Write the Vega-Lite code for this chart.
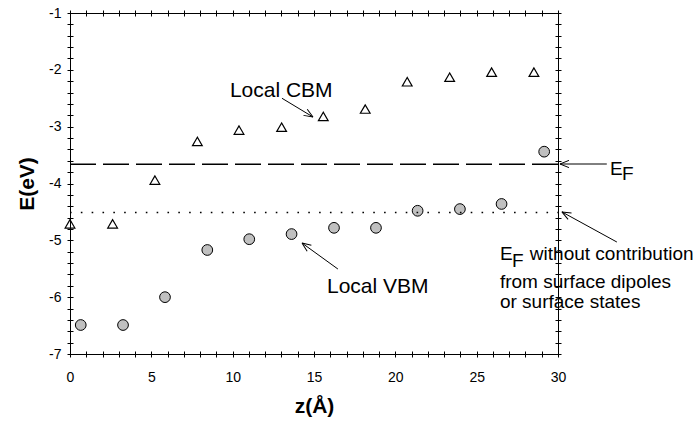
{
  "$schema": "https://vega.github.io/schema/vega-lite/v6.json",
  "autosize": "none",
  "width": 488,
  "height": 341,
  "padding": {"left": 70, "top": 13, "right": 138, "bottom": 67},
  "background": "white",
  "config": {
    "view": {"stroke": "black", "strokeWidth": 1},
    "font": "Liberation Sans"
  },
  "datasets": {
    "cbm": [
      {"z": 0, "E": -4.71}, {"z": 2.62, "E": -4.71}, {"z": 5.22, "E": -3.94}, {"z": 7.83, "E": -3.26},
      {"z": 10.39, "E": -3.06}, {"z": 13.01, "E": -3.01}, {"z": 15.57, "E": -2.82}, {"z": 18.15, "E": -2.69},
      {"z": 20.73, "E": -2.21}, {"z": 23.34, "E": -2.13}, {"z": 25.92, "E": -2.04}, {"z": 28.52, "E": -2.04}
    ],
    "vbm": [
      {"z": 0.66, "E": -6.49}, {"z": 3.26, "E": -6.49}, {"z": 5.84, "E": -6.0}, {"z": 8.44, "E": -5.17},
      {"z": 11.02, "E": -4.98}, {"z": 13.62, "E": -4.89}, {"z": 16.23, "E": -4.78}, {"z": 18.81, "E": -4.78},
      {"z": 21.37, "E": -4.48}, {"z": 23.97, "E": -4.45}, {"z": 26.53, "E": -4.36}, {"z": 29.15, "E": -3.44}
    ],
    "levels": [
      {"name": "EF", "z": 0, "z2": 30, "E": -3.66},
      {"name": "EF0", "z": 0, "z2": 30, "E": -4.51}
    ],
    "arrows": [
      {"id": "cbm", "z": 13.03, "E": -2.50, "z2": 14.94, "E2": -2.83},
      {"id": "vbm", "z": 16.47, "E": -5.505, "z2": 14.26, "E2": -5.047},
      {"id": "ef", "z": 33.0, "E": -3.657, "z2": 30.12, "E2": -3.657},
      {"id": "ef0", "z": 33.62, "E": -5.03, "z2": 30.24, "E2": -4.50}
    ],
    "bandlabels": [
      {"text": "Local CBM", "z": 9.83, "E": -2.478},
      {"text": "Local VBM", "z": 15.8, "E": -5.927}
    ],
    "labels": [
      {"text": "E", "z": 33.19, "E": -3.85},
      {"text": "F", "z": 33.93, "E": -3.94},
      {"text": "E", "z": 26.43, "E": -5.346},
      {"text": "F", "z": 27.17, "E": -5.47},
      {"text": "without contribution", "z": 28.27, "E": -5.346},
      {"text": "from surface dipoles", "z": 26.43, "E": -5.839},
      {"text": "or surface states", "z": 26.43, "E": -6.19}
    ]
  },
  "encoding": {
    "x": {"field": "z", "type": "quantitative", "scale": {"domain": [0, 30], "nice": false, "zero": false}, "axis": null},
    "y": {"field": "E", "type": "quantitative", "scale": {"domain": [-7, -1], "nice": false, "zero": false}, "axis": null}
  },
  "resolve": {"axis": {"x": "independent", "y": "independent"}},
  "layer": [
    {
      "data": {"name": "cbm"},
      "mark": {"type": "point", "shape": "triangle-up", "filled": false, "stroke": "black", "strokeWidth": 1.2, "size": 95, "opacity": 1},
      "encoding": {
        "x": {"field": "z", "type": "quantitative", "scale": {"domain": [0, 30], "nice": false, "zero": false},
          "axis": {"orient": "bottom", "values": [0,1,2,3,4,5,6,7,8,9,10,11,12,13,14,15,16,17,18,19,20,21,22,23,24,25,26,27,28,29,30],
            "labelExpr": "datum.value % 5 === 0 ? '' + datum.value : ''",
            "domain": false, "offset": -3, "tickSize": 6, "tickColor": "black", "tickWidth": 1,
            "labelPadding": 13, "labelFontSize": 14, "labelColor": "black", "labelFlush": false, "labelOverlap": false,
            "grid": false, "title": "z(Å)", "titleFontSize": 21, "titleFontWeight": "bold", "titleColor": "black", "titlePadding": 11}},
        "y": {"field": "E", "type": "quantitative", "scale": {"domain": [-7, -1], "nice": false, "zero": false},
          "axis": {"orient": "left", "values": [-7,-6.8,-6.6,-6.4,-6.2,-6,-5.8,-5.6,-5.4,-5.2,-5,-4.8,-4.6,-4.4,-4.2,-4,-3.8,-3.6,-3.4,-3.2,-3,-2.8,-2.6,-2.4,-2.2,-2,-1.8,-1.6,-1.4,-1.2,-1],
            "labelExpr": "abs(datum.value - round(datum.value)) < 0.001 ? '' + round(datum.value) : ''",
            "domain": false, "offset": -3, "tickSize": 6, "tickColor": "black", "tickWidth": 1,
            "labelPadding": 6, "labelFontSize": 14, "labelColor": "black", "labelFlush": false, "labelOverlap": false,
            "grid": false, "title": "E(eV)", "titleFontSize": 21, "titleFontWeight": "bold", "titleColor": "black", "titlePadding": 11}}
      }
    },
    {
      "data": {"name": "vbm"},
      "mark": {"type": "point", "shape": "circle", "filled": true, "fill": "#c0c0c0", "stroke": "black", "strokeWidth": 1, "size": 115, "opacity": 1},
      "encoding": {
        "x": {"field": "z", "type": "quantitative", "scale": {"domain": [0, 30], "nice": false, "zero": false},
          "axis": {"orient": "top", "values": [0,1,2,3,4,5,6,7,8,9,10,11,12,13,14,15,16,17,18,19,20,21,22,23,24,25,26,27,28,29,30],
            "labels": false, "domain": false, "offset": -3, "tickSize": 6, "tickColor": "black", "grid": false, "title": null}},
        "y": {"field": "E", "type": "quantitative", "scale": {"domain": [-7, -1], "nice": false, "zero": false},
          "axis": {"orient": "right", "values": [-7,-6.8,-6.6,-6.4,-6.2,-6,-5.8,-5.6,-5.4,-5.2,-5,-4.8,-4.6,-4.4,-4.2,-4,-3.8,-3.6,-3.4,-3.2,-3,-2.8,-2.6,-2.4,-2.2,-2,-1.8,-1.6,-1.4,-1.2,-1],
            "labels": false, "domain": false, "offset": -3, "tickSize": 6, "tickColor": "black", "grid": false, "title": null}}
      }
    },
    {
      "data": {"name": "levels"},
      "transform": [{"filter": "datum.name === 'EF'"}],
      "mark": {"type": "rule", "stroke": "black", "strokeWidth": 1.5, "strokeDash": [26, 7]},
      "encoding": {"x2": {"field": "z2"}}
    },
    {
      "data": {"name": "levels"},
      "transform": [{"filter": "datum.name === 'EF0'"}],
      "mark": {"type": "rule", "stroke": "black", "strokeWidth": 1.6, "strokeDash": [1.6, 9.23]},
      "encoding": {"x2": {"field": "z2"}}
    },
    {
      "data": {"name": "arrows"},
      "mark": {"type": "rule", "stroke": "black", "strokeWidth": 1},
      "encoding": {"x2": {"field": "z2"}, "y2": {"field": "E2"}}
    },
    {
      "data": {"name": "arrows"},
      "transform": [{"filter": "datum.id === 'cbm'"}],
      "mark": {"type": "point", "shape": "M0,0L-1,-0.4M0,0L-1,0.4", "filled": false, "stroke": "black", "strokeWidth": 1, "size": 324, "angle": 31.5, "opacity": 1},
      "encoding": {"x": {"field": "z2", "type": "quantitative", "scale": {"domain": [0, 30], "nice": false, "zero": false}, "axis": null},
        "y": {"field": "E2", "type": "quantitative", "scale": {"domain": [-7, -1], "nice": false, "zero": false}, "axis": null}}
    },
    {
      "data": {"name": "arrows"},
      "transform": [{"filter": "datum.id === 'vbm'"}],
      "mark": {"type": "point", "shape": "M0,0L-1,-0.4M0,0L-1,0.4", "filled": false, "stroke": "black", "strokeWidth": 1, "size": 324, "angle": 215.8, "opacity": 1},
      "encoding": {"x": {"field": "z2", "type": "quantitative", "scale": {"domain": [0, 30], "nice": false, "zero": false}, "axis": null},
        "y": {"field": "E2", "type": "quantitative", "scale": {"domain": [-7, -1], "nice": false, "zero": false}, "axis": null}}
    },
    {
      "data": {"name": "arrows"},
      "transform": [{"filter": "datum.id === 'ef'"}],
      "mark": {"type": "point", "shape": "M0,0L-1,-0.4M0,0L-1,0.4", "filled": false, "stroke": "black", "strokeWidth": 1, "size": 324, "angle": 180, "opacity": 1},
      "encoding": {"x": {"field": "z2", "type": "quantitative", "scale": {"domain": [0, 30], "nice": false, "zero": false}, "axis": null},
        "y": {"field": "E2", "type": "quantitative", "scale": {"domain": [-7, -1], "nice": false, "zero": false}, "axis": null}}
    },
    {
      "data": {"name": "arrows"},
      "transform": [{"filter": "datum.id === 'ef0'"}],
      "mark": {"type": "point", "shape": "M0,0L-1,-0.4M0,0L-1,0.4", "filled": false, "stroke": "black", "strokeWidth": 1, "size": 324, "angle": 208.6, "opacity": 1},
      "encoding": {"x": {"field": "z2", "type": "quantitative", "scale": {"domain": [0, 30], "nice": false, "zero": false}, "axis": null},
        "y": {"field": "E2", "type": "quantitative", "scale": {"domain": [-7, -1], "nice": false, "zero": false}, "axis": null}}
    },
    {
      "data": {"name": "bandlabels"},
      "mark": {"type": "text", "align": "left", "baseline": "alphabetic", "fontSize": 21, "color": "black", "font": "Liberation Sans"},
      "encoding": {"text": {"field": "text"}}
    },
    {
      "data": {"name": "labels"},
      "mark": {"type": "text", "align": "left", "baseline": "alphabetic", "fontSize": 19, "color": "black", "font": "Liberation Sans"},
      "encoding": {"text": {"field": "text"}}
    }
  ]
}
